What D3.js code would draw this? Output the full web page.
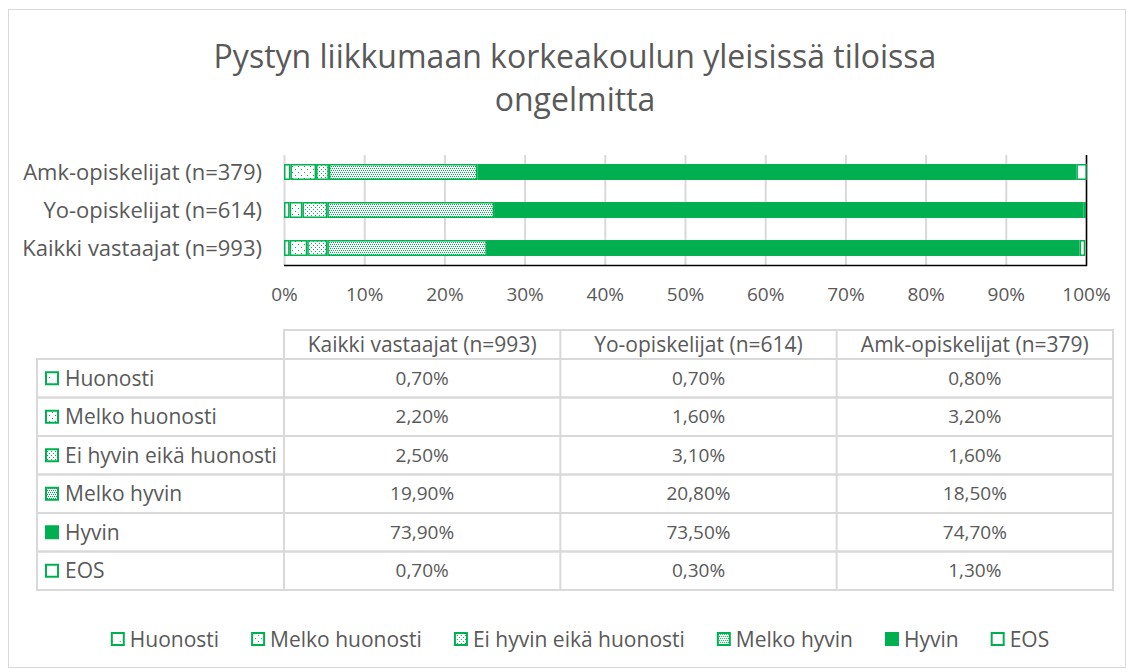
<!DOCTYPE html>
<html>
<head>
<meta charset="utf-8">
<script src="https://cdn.jsdelivr.net/npm/d3@7"></script>
<style>
  body { margin: 0; background: #fff; }
  text { font-family: "Open Sans", sans-serif; fill: #595959; }
</style>
</head>
<body>
<script>
// Data
const categories = ["Kaikki vastaajat (n=993)", "Yo-opiskelijat (n=614)", "Amk-opiskelijat (n=379)"];
const series = ["Huonosti", "Melko huonosti", "Ei hyvin eikä huonosti", "Melko hyvin", "Hyvin", "EOS"];
const huonosti      = [0.7, 0.7, 0.8];
const melkoHuonosti = [2.2, 1.6, 3.2];
const eiHyvin       = [2.5, 3.1, 1.6];
const melkoHyvin    = [19.9, 20.8, 18.5];
const hyvin         = [73.9, 73.5, 74.7];
const eos           = [0.7, 0.3, 1.3];
const ticks = [0, 10, 20, 30, 40, 50, 60, 70, 80, 90, 100];
const titleLines = ["Pystyn liikkumaan korkeakoulun yleisissä tiloissa", "ongelmitta"];

const values = [huonosti, melkoHuonosti, eiHyvin, melkoHyvin, hyvin, eos];
const rows = categories.map((c, i) => {
    const r = {cat: c};
    series.forEach((s, j) => r[s] = values[j][i]);
    return r;
});

const W = 1134, H = 672;
const green = "#00B050";
const fiLocale = d3.formatLocale({decimal: ",", thousands: " ", grouping: [3], currency: ["", "€"]});
const fmt = fiLocale.format(".2f");

const svg = d3.select("body").append("svg")
    .attr("width", W).attr("height", H);

// pattern fills (white ground, green dots)
const defs = svg.append("defs");
const patterns = [
    {id: "p0", size: 8, dots: [[1, 1]]},
    {id: "p1", size: 6, dots: [[1, 1], [4, 4]]},
    {id: "p2", size: 4, dots: [[1, 1], [3, 3]]},
    {id: "p3", size: 4, dots: [[0, 0], [2, 0], [1, 2], [3, 2]]}
];
patterns.forEach(p => {
    const pat = defs.append("pattern").attr("id", p.id)
        .attr("patternUnits", "userSpaceOnUse")
        .attr("width", p.size).attr("height", p.size);
    pat.append("rect").attr("width", p.size).attr("height", p.size).attr("fill", "#fff");
    p.dots.forEach(d => pat.append("rect").attr("x", d[0]).attr("y", d[1])
        .attr("width", 1).attr("height", 1).attr("fill", green));
});
const fills = ["url(#p0)", "url(#p1)", "url(#p2)", "url(#p3)", green, "#fff"];
const color = d3.scaleOrdinal(series, fills);

// outer frame
svg.append("rect").attr("x", 8.5).attr("y", 9.5).attr("width", 1117).attr("height", 658)
    .attr("fill", "#fff").attr("stroke", "#d9d9d9");

// title
svg.append("g").selectAll("text").data(titleLines).join("text")
    .attr("x", 575).attr("y", (d, i) => 68 + i * 43)
    .attr("text-anchor", "middle")
    .style("font-size", "32px")
    .text(d => d);

// scales
const x = d3.scaleLinear([0, 100], [284, 1086]);
const y = d3.scaleBand(categories.slice().reverse(), [153, 267])
    .paddingInner(0.58).paddingOuter(0.29);

// gridlines
svg.append("g").selectAll("line").data(ticks).join("line")
    .attr("x1", d => x(d) + 0.5).attr("x2", d => x(d) + 0.5)
    .attr("y1", 155).attr("y2", 265)
    .attr("stroke", "#d9d9d9").attr("stroke-width", 2);

// plot area border (bottom + right)
svg.append("line").attr("x1", 284).attr("x2", 1087).attr("y1", 265.5).attr("y2", 265.5)
    .attr("stroke", "#000").attr("stroke-width", 1.5);
svg.append("line").attr("x1", 1086.5).attr("x2", 1086.5).attr("y1", 155).attr("y2", 266)
    .attr("stroke", "#000").attr("stroke-width", 1.5);

// bars
const stack = d3.stack().keys(series)(rows);
svg.append("g").selectAll("g").data(stack).join("g")
    .attr("fill", d => color(d.key))
    .selectAll("rect").data(d => d).join("rect")
    .attr("x", d => x(d[0]) + 0.75)
    .attr("y", d => y(d.data.cat) + 0.75)
    .attr("width", d => Math.max(0, x(d[1]) - x(d[0]) - 1.5))
    .attr("height", y.bandwidth() - 1.5)
    .attr("stroke", green).attr("stroke-width", 1.5);

// category labels
svg.append("g").selectAll("text").data(categories).join("text")
    .attr("x", 262).attr("y", d => y(d) + y.bandwidth() / 2)
    .attr("dy", "0.35em").attr("text-anchor", "end")
    .style("font-size", "22px")
    .text(d => d);

// x axis tick labels
const xAxis = svg.append("g").attr("transform", "translate(0,265)")
    .call(d3.axisBottom(x).tickValues(ticks).tickFormat(d => d + "%").tickSize(0).tickPadding(23));
xAxis.select(".domain").remove();
xAxis.selectAll("text").style("font-size", "19px").attr("fill", "#595959")
    .style("font-family", "'Open Sans', sans-serif");

// data table
const col = d3.scaleBand(categories, [284, 1113]);
const row = d3.scaleBand(series, [359, 590]);
const tb = svg.append("g");
const lineC = "#d9d9d9";
tb.append("rect").attr("x", 284).attr("y", 330).attr("width", 1113 - 284).attr("height", 29)
    .attr("fill", "none").attr("stroke", lineC).attr("stroke-width", 2);
tb.selectAll(".hdr").data(categories).join("text").attr("class", "hdr")
    .attr("x", d => col(d) + col.bandwidth() / 2).attr("y", 345)
    .attr("dy", "0.35em").attr("text-anchor", "middle")
    .style("font-size", "21px").text(d => d);
tb.selectAll(".rowline").data(series).join("rect").attr("class", "rowline")
    .attr("x", 37).attr("y", d => row(d)).attr("width", 1113 - 37).attr("height", row.bandwidth())
    .attr("fill", "none").attr("stroke", lineC).attr("stroke-width", 2);
tb.selectAll(".colline").data(categories).join("line").attr("class", "colline")
    .attr("x1", d => col(d)).attr("x2", d => col(d))
    .attr("y1", 330).attr("y2", 590)
    .attr("stroke", lineC).attr("stroke-width", 2);
tb.selectAll(".rowkey").data(series).join("rect").attr("class", "rowkey")
    .attr("x", 46).attr("y", d => row(d) + row.bandwidth() / 2 - 6)
    .attr("width", 12).attr("height", 12)
    .attr("fill", d => color(d)).attr("stroke", green).attr("stroke-width", 2);
tb.selectAll(".rowlabel").data(series).join("text").attr("class", "rowlabel")
    .attr("x", 65).attr("y", d => row(d) + row.bandwidth() / 2)
    .attr("dy", "0.35em").style("font-size", "21px").text(d => d);
const cells = [];
series.forEach((s, j) => categories.forEach((c, i) => cells.push({s, c, v: values[j][i]})));
tb.selectAll(".cell").data(cells).join("text").attr("class", "cell")
    .attr("x", d => col(d.c) + col.bandwidth() / 2)
    .attr("y", d => row(d.s) + row.bandwidth() / 2)
    .attr("dy", "0.35em").attr("text-anchor", "middle")
    .style("font-size", "19px").text(d => fmt(d.v) + "%");

// legend
const lg = svg.append("g");
const items = lg.selectAll("g").data(series).join("g");
items.append("rect").attr("x", 1).attr("y", -7).attr("width", 12).attr("height", 12)
    .attr("fill", d => color(d)).attr("stroke", green).attr("stroke-width", 2);
items.append("text").attr("x", 19).attr("dy", "0.35em").style("font-size", "21px").text(d => d);
let off = 0;
items.each(function() {
    const w = d3.select(this).select("text").node().getComputedTextLength() + 19;
    d3.select(this).attr("transform", `translate(${off},0)`);
    off += w + 32;
});
off -= 32;
lg.attr("transform", `translate(${580 - off / 2},640)`);
</script>
</body>
</html>
